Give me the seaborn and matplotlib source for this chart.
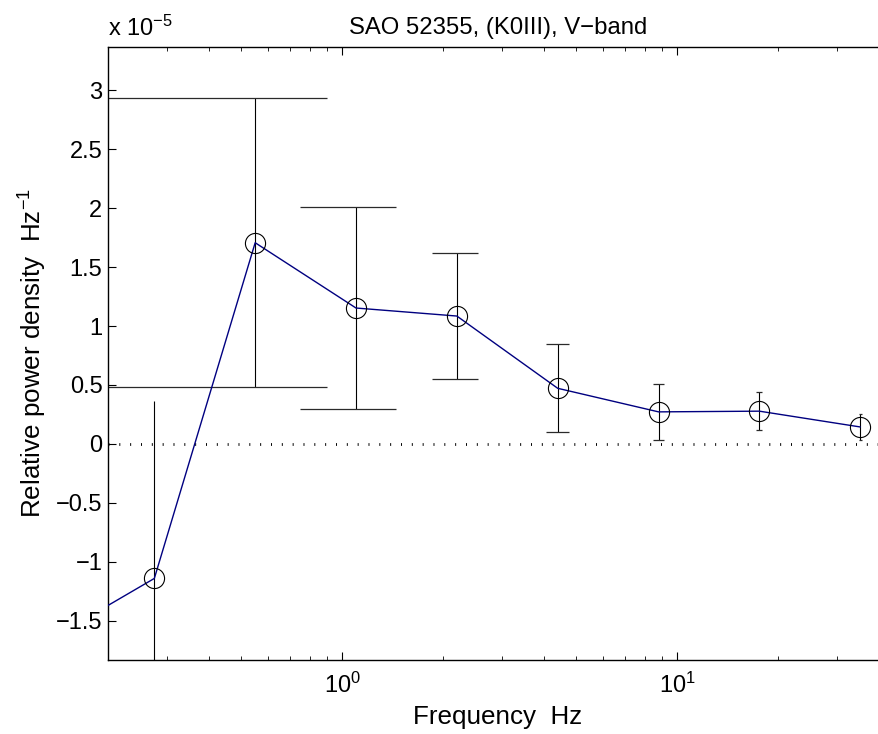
"""
Relative power density spectrum, SAO 52355 (K0III), V-band.
"""

import numpy as np
import pandas as pd
import matplotlib
matplotlib.use('Agg')
import matplotlib.pyplot as plt
import matplotlib.ticker as mticker
import seaborn as sns


# %%
# data (power density in units of 1e-5 Hz^-1)
freq = [0.1375, 0.275, 0.55, 1.1, 2.2, 4.4, 8.8, 17.6, 35.2]
power = [-1.64, -1.141, 1.707, 1.153, 1.085, 0.472, 0.272, 0.278, 0.144]
err = [1.92, 1.505, 1.225, 0.853, 0.534, 0.373, 0.240, 0.163, 0.114]

yticks = [-1.5, -1.0, -0.5, 0.0, 0.5, 1.0, 1.5, 2.0, 2.5, 3.0]

df = pd.DataFrame({'freq': freq, 'power': power, 'err': err})


# %%
sns.set_style('ticks')
plt.rcParams['font.family'] = ['Liberation Sans', 'DejaVu Sans']
plt.rcParams['mathtext.default'] = 'regular'
plt.rcParams['font.size'] = 17
for k in ['text.color', 'axes.labelcolor', 'xtick.color', 'ytick.color', 'axes.edgecolor']:
    plt.rcParams[k] = 'black'

fig = plt.figure(figsize=(8.79, 7.34), dpi=100)
ax = fig.add_axes([108 / 879, 74 / 734, 780 / 879, 613.3 / 734])

# error bars, matlab style caps (half width = x range / 100, dropped if <= 0)
tee = (df.freq.max() - df.freq.min()) / 100
lo = df.power - df.err
hi = df.power + df.err
ax.vlines(df.freq, lo, hi, color='k', lw=0.8, zorder=2)
ok = df.freq - tee > 0
for yy in (lo[ok], hi[ok]):
    ax.hlines(yy, df.freq[ok] - tee, df.freq[ok] + tee, color='#2a2a2a', lw=0.9, zorder=2)

# zero line
ax.axhline(0, color='k', lw=2.0, ls=(0, (0.35, 3.55)), zorder=1)

sns.lineplot(data=df, x='freq', y='power', ax=ax, color='#000080', lw=1.0,
             marker='o', markersize=14.5, markerfacecolor='none',
             markeredgecolor='k', markeredgewidth=0.8, zorder=3)

ax.set_xscale('log')
ax.set_xlim(0.2, 42.6)
ax.set_ylim(-1.833, 3.37)

ax.set_yticks(yticks)
ax.yaxis.set_major_formatter(mticker.FuncFormatter(lambda v, p: f'{v:g}'.replace('-', '\u2212')))
ax.xaxis.set_minor_formatter(mticker.NullFormatter())

ax.tick_params(which='both', direction='in', top=True, right=False, labelsize=17)
ax.tick_params(axis='x', which='major', length=5.8, pad=9)
ax.tick_params(axis='x', which='minor', length=3)
ax.tick_params(axis='y', which='major', length=5.8, pad=4)
ax.tick_params(axis='y', which='minor', left=False, right=False)

for s in ax.spines.values():
    s.set_linewidth(1.0)
    s.set_color('k')
ax.spines['right'].set_visible(False)

ax.set_title('SAO 52355, (K0III), V\u2212band', fontsize=17.2, pad=9)
ax.set_xlabel('Frequency  Hz', fontsize=18.7, labelpad=5)
ax.set_ylabel('Relative power density  Hz$^{-1}$', fontsize=18.7, labelpad=5)

ax.annotate('x 10$^{-5}$', xy=(0, 1), xycoords='axes fraction',
            xytext=(0, 7.7), textcoords='offset points',
            ha='left', va='baseline', fontsize=17)

plt.savefig('out.png', dpi=100)
